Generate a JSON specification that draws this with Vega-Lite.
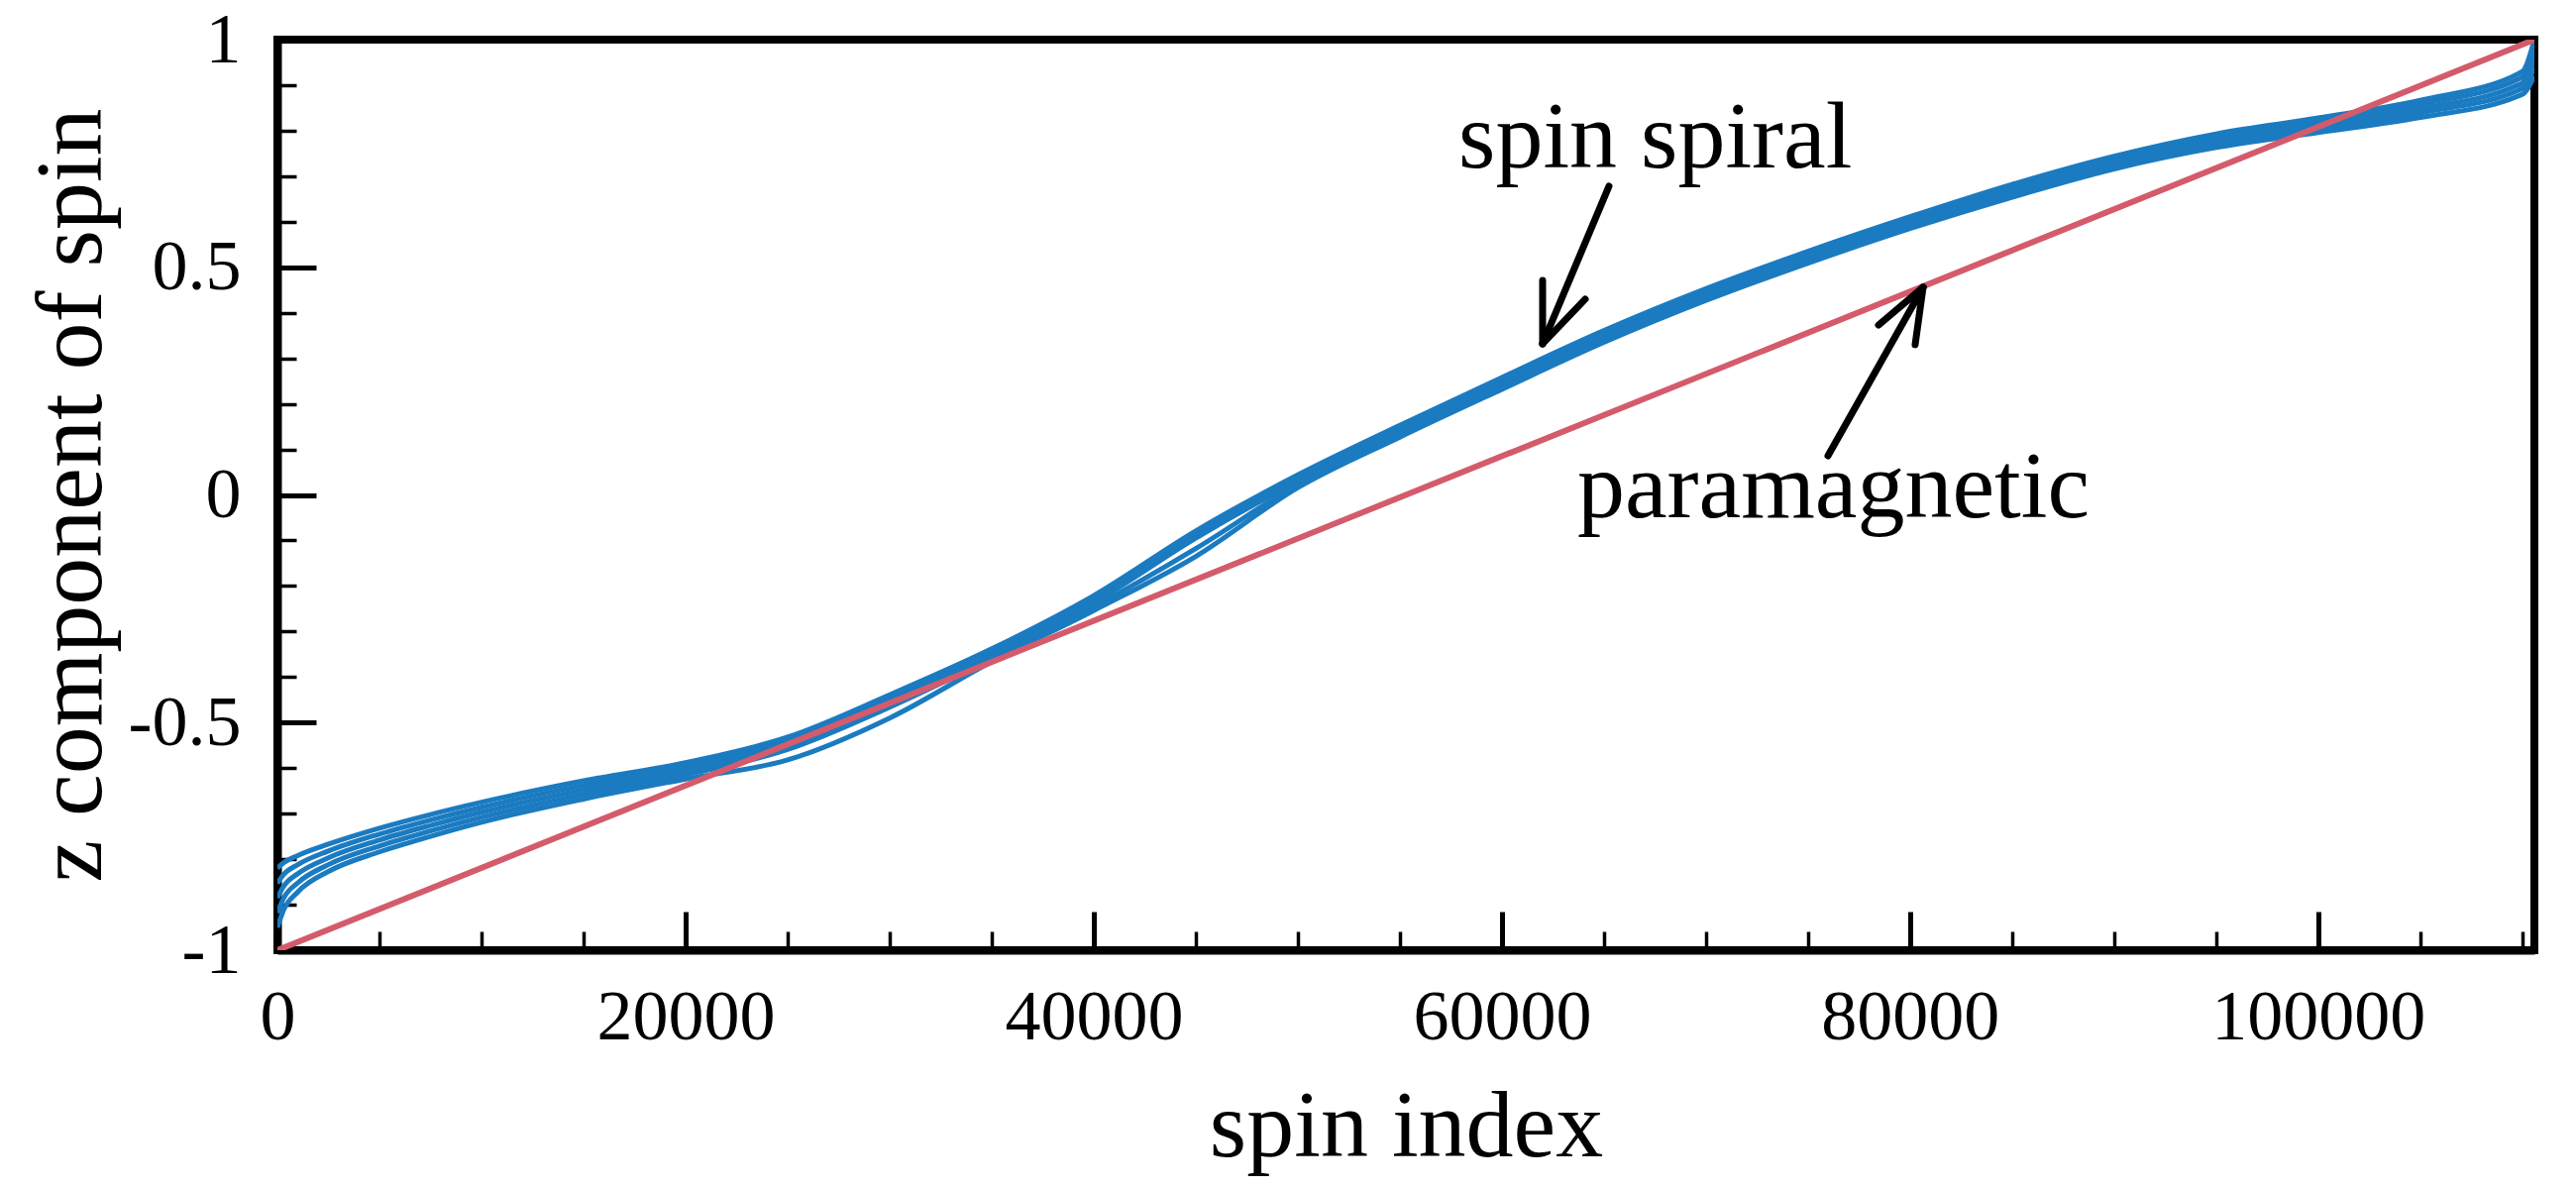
{
  "$schema": "https://vega.github.io/schema/vega-lite/v6.json",
  "autosize": {"type": "none"},
  "width": 2278,
  "height": 919,
  "padding": {"left": 280, "top": 40, "right": 42, "bottom": 241},
  "background": "white",
  "config": {
    "view": {"stroke": "black", "strokeWidth": 8},
    "font": "Liberation Serif"
  },
  "datasets": {
    "spiral": [
      {"s": "a", "x": 0, "z": -0.95}, {"s": "b", "x": 0, "z": -0.918}, {"s": "c", "x": 0, "z": -0.885}, {"s": "d", "x": 0, "z": -0.853}, {"s": "e", "x": 0, "z": -0.82},
      {"s": "a", "x": 300, "z": -0.912}, {"s": "b", "x": 300, "z": -0.886}, {"s": "c", "x": 300, "z": -0.86}, {"s": "d", "x": 300, "z": -0.834}, {"s": "e", "x": 300, "z": -0.808},
      {"s": "a", "x": 1000, "z": -0.872}, {"s": "b", "x": 1000, "z": -0.852}, {"s": "c", "x": 1000, "z": -0.832}, {"s": "d", "x": 1000, "z": -0.812}, {"s": "e", "x": 1000, "z": -0.792},
      {"s": "a", "x": 2500, "z": -0.827}, {"s": "b", "x": 2500, "z": -0.812}, {"s": "c", "x": 2500, "z": -0.797}, {"s": "d", "x": 2500, "z": -0.782}, {"s": "e", "x": 2500, "z": -0.767},
      {"s": "a", "x": 5000, "z": -0.784}, {"s": "b", "x": 5000, "z": -0.771}, {"s": "c", "x": 5000, "z": -0.758}, {"s": "d", "x": 5000, "z": -0.745}, {"s": "e", "x": 5000, "z": -0.732},
      {"s": "a", "x": 7500, "z": -0.75}, {"s": "b", "x": 7500, "z": -0.738}, {"s": "c", "x": 7500, "z": -0.726}, {"s": "d", "x": 7500, "z": -0.714}, {"s": "e", "x": 7500, "z": -0.702},
      {"s": "a", "x": 10000, "z": -0.719}, {"s": "b", "x": 10000, "z": -0.708}, {"s": "c", "x": 10000, "z": -0.697}, {"s": "d", "x": 10000, "z": -0.686}, {"s": "e", "x": 10000, "z": -0.675},
      {"s": "a", "x": 15000, "z": -0.668}, {"s": "b", "x": 15000, "z": -0.658}, {"s": "c", "x": 15000, "z": -0.648}, {"s": "d", "x": 15000, "z": -0.638}, {"s": "e", "x": 15000, "z": -0.628},
      {"s": "a", "x": 20000, "z": -0.624}, {"s": "b", "x": 20000, "z": -0.615}, {"s": "c", "x": 20000, "z": -0.606}, {"s": "d", "x": 20000, "z": -0.597}, {"s": "e", "x": 20000, "z": -0.588},
      {"s": "a", "x": 25000, "z": -0.582}, {"s": "b", "x": 25000, "z": -0.559}, {"s": "c", "x": 25000, "z": -0.55}, {"s": "d", "x": 25000, "z": -0.541}, {"s": "e", "x": 25000, "z": -0.532},
      {"s": "a", "x": 30000, "z": -0.49}, {"s": "b", "x": 30000, "z": -0.466}, {"s": "c", "x": 30000, "z": -0.457}, {"s": "d", "x": 30000, "z": -0.448}, {"s": "e", "x": 30000, "z": -0.439},
      {"s": "a", "x": 35000, "z": -0.366}, {"s": "b", "x": 35000, "z": -0.359}, {"s": "c", "x": 35000, "z": -0.352}, {"s": "d", "x": 35000, "z": -0.345}, {"s": "e", "x": 35000, "z": -0.338},
      {"s": "a", "x": 40000, "z": -0.254}, {"s": "b", "x": 40000, "z": -0.246}, {"s": "c", "x": 40000, "z": -0.237}, {"s": "d", "x": 40000, "z": -0.229}, {"s": "e", "x": 40000, "z": -0.221},
      {"s": "a", "x": 45000, "z": -0.135}, {"s": "b", "x": 45000, "z": -0.118}, {"s": "c", "x": 45000, "z": -0.095}, {"s": "d", "x": 45000, "z": -0.087}, {"s": "e", "x": 45000, "z": -0.079},
      {"s": "a", "x": 50000, "z": 0.016}, {"s": "b", "x": 50000, "z": 0.023}, {"s": "c", "x": 50000, "z": 0.03}, {"s": "d", "x": 50000, "z": 0.037}, {"s": "e", "x": 50000, "z": 0.044},
      {"s": "a", "x": 55000, "z": 0.127}, {"s": "b", "x": 55000, "z": 0.134}, {"s": "c", "x": 55000, "z": 0.14}, {"s": "d", "x": 55000, "z": 0.147}, {"s": "e", "x": 55000, "z": 0.153},
      {"s": "a", "x": 60000, "z": 0.232}, {"s": "b", "x": 60000, "z": 0.239}, {"s": "c", "x": 60000, "z": 0.245}, {"s": "d", "x": 60000, "z": 0.252}, {"s": "e", "x": 60000, "z": 0.258},
      {"s": "a", "x": 65000, "z": 0.335}, {"s": "b", "x": 65000, "z": 0.341}, {"s": "c", "x": 65000, "z": 0.348}, {"s": "d", "x": 65000, "z": 0.355}, {"s": "e", "x": 65000, "z": 0.361},
      {"s": "a", "x": 70000, "z": 0.427}, {"s": "b", "x": 70000, "z": 0.434}, {"s": "c", "x": 70000, "z": 0.44}, {"s": "d", "x": 70000, "z": 0.447}, {"s": "e", "x": 70000, "z": 0.453},
      {"s": "a", "x": 75000, "z": 0.509}, {"s": "b", "x": 75000, "z": 0.516}, {"s": "c", "x": 75000, "z": 0.522}, {"s": "d", "x": 75000, "z": 0.529}, {"s": "e", "x": 75000, "z": 0.535},
      {"s": "a", "x": 80000, "z": 0.585}, {"s": "b", "x": 80000, "z": 0.592}, {"s": "c", "x": 80000, "z": 0.598}, {"s": "d", "x": 80000, "z": 0.605}, {"s": "e", "x": 80000, "z": 0.611},
      {"s": "a", "x": 85000, "z": 0.654}, {"s": "b", "x": 85000, "z": 0.661}, {"s": "c", "x": 85000, "z": 0.668}, {"s": "d", "x": 85000, "z": 0.675}, {"s": "e", "x": 85000, "z": 0.682},
      {"s": "a", "x": 90000, "z": 0.716}, {"s": "b", "x": 90000, "z": 0.723}, {"s": "c", "x": 90000, "z": 0.73}, {"s": "d", "x": 90000, "z": 0.737}, {"s": "e", "x": 90000, "z": 0.744},
      {"s": "a", "x": 95000, "z": 0.763}, {"s": "b", "x": 95000, "z": 0.771}, {"s": "c", "x": 95000, "z": 0.778}, {"s": "d", "x": 95000, "z": 0.786}, {"s": "e", "x": 95000, "z": 0.793},
      {"s": "a", "x": 100000, "z": 0.796}, {"s": "b", "x": 100000, "z": 0.804}, {"s": "c", "x": 100000, "z": 0.812}, {"s": "d", "x": 100000, "z": 0.82}, {"s": "e", "x": 100000, "z": 0.828},
      {"s": "a", "x": 105000, "z": 0.829}, {"s": "b", "x": 105000, "z": 0.839}, {"s": "c", "x": 105000, "z": 0.848}, {"s": "d", "x": 105000, "z": 0.858}, {"s": "e", "x": 105000, "z": 0.867},
      {"s": "a", "x": 110000, "z": 0.88}, {"s": "b", "x": 110000, "z": 0.893}, {"s": "c", "x": 110000, "z": 0.905}, {"s": "d", "x": 110000, "z": 0.918}, {"s": "e", "x": 110000, "z": 0.93},
      {"s": "a", "x": 110592, "z": 0.92}, {"s": "b", "x": 110592, "z": 0.94}, {"s": "c", "x": 110592, "z": 0.96}, {"s": "d", "x": 110592, "z": 0.98}, {"s": "e", "x": 110592, "z": 1.0}
    ],
    "para": [
      {"x": 0, "z": -1},
      {"x": 110592, "z": 1}
    ],
    "arrows": [
      {"x": 65248, "z": 0.678, "x2": 61995, "z2": 0.332},
      {"x": 61995, "z": 0.332, "x2": 61995, "z2": 0.471},
      {"x": 61995, "z": 0.332, "x2": 64083, "z2": 0.43},
      {"x": 75977, "z": 0.086, "x2": 80638, "z2": 0.456},
      {"x": 80638, "z": 0.456, "x2": 78453, "z2": 0.373},
      {"x": 80638, "z": 0.456, "x2": 80249, "z2": 0.33}
    ],
    "notes": [
      {"x": 57870, "z": 0.719, "label": "spin spiral"},
      {"x": 63695, "z": -0.049, "label": "paramagnetic"}
    ]
  },
  "encoding": {
    "x": {
      "field": "x",
      "type": "quantitative",
      "scale": {"domain": [0, 110592], "nice": false, "zero": false},
      "axis": {
        "title": "spin index",
        "orient": "bottom",
        "grid": false,
        "values": [0, 5000, 10000, 15000, 20000, 25000, 30000, 35000, 40000, 45000, 50000, 55000, 60000, 65000, 70000, 75000, 80000, 85000, 90000, 95000, 100000, 105000, 110000],
        "labelExpr": "datum.value % 20000 === 0 ? toString(datum.value) : ''",
        "labelFlush": false,
        "labelOverlap": false,
        "labelLimit": 0,
        "labelFont": "Liberation Serif",
        "labelFontSize": 72,
        "labelColor": "black",
        "labelPadding": 71,
        "tickSize": {"condition": {"test": "datum.value % 20000 === 0", "value": -39}, "value": -19},
        "tickWidth": {"condition": {"test": "datum.value % 20000 === 0", "value": 5}, "value": 3.5},
        "tickColor": "black",
        "domainColor": "black",
        "domainWidth": 8,
        "titleFont": "Liberation Serif",
        "titleFontSize": 96,
        "titleFontWeight": "normal",
        "titleColor": "black",
        "titlePadding": 8
      }
    },
    "y": {
      "field": "z",
      "type": "quantitative",
      "scale": {"domain": [-1, 1], "nice": false, "zero": false},
      "axis": {
        "title": "z component of spin",
        "orient": "left",
        "grid": false,
        "values": [-1, -0.9, -0.8, -0.7, -0.6, -0.5, -0.4, -0.3, -0.2, -0.1, 0, 0.1, 0.2, 0.3, 0.4, 0.5, 0.6, 0.7, 0.8, 0.9, 1],
        "labelExpr": "abs(datum.value * 2 - round(datum.value * 2)) < 0.001 ? toString(round(datum.value * 2) / 2) : ''",
        "labelFlush": false,
        "labelOverlap": false,
        "labelLimit": 0,
        "labelFont": "Liberation Serif",
        "labelFontSize": 72,
        "labelColor": "black",
        "labelPadding": 76,
        "tickSize": {"condition": {"test": "abs(datum.value * 2 - round(datum.value * 2)) < 0.001", "value": -39}, "value": -19},
        "tickWidth": {"condition": {"test": "abs(datum.value * 2 - round(datum.value * 2)) < 0.001", "value": 5}, "value": 3.5},
        "tickColor": "black",
        "domainColor": "black",
        "domainWidth": 8,
        "titleFont": "Liberation Serif",
        "titleFontSize": 96,
        "titleFontWeight": "normal",
        "titleColor": "black",
        "titlePadding": 8
      }
    }
  },
  "layer": [
    {
      "data": {"name": "spiral"},
      "mark": {"type": "line", "color": "#1b7bc1", "strokeWidth": 5, "interpolate": "monotone", "clip": true},
      "encoding": {"detail": {"field": "s", "type": "nominal"}}
    },
    {
      "data": {"name": "para"},
      "mark": {"type": "line", "color": "#d45b6b", "strokeWidth": 6, "clip": true},
      "encoding": {}
    },
    {
      "data": {"name": "arrows"},
      "mark": {"type": "rule", "color": "black", "strokeWidth": 7, "strokeCap": "round"},
      "encoding": {
        "x2": {"field": "x2"},
        "y2": {"field": "z2"}
      }
    },
    {
      "data": {"name": "notes"},
      "mark": {"type": "text", "font": "Liberation Serif", "fontSize": 96, "color": "black", "align": "left", "baseline": "alphabetic"},
      "encoding": {"text": {"field": "label", "type": "nominal"}}
    }
  ]
}
